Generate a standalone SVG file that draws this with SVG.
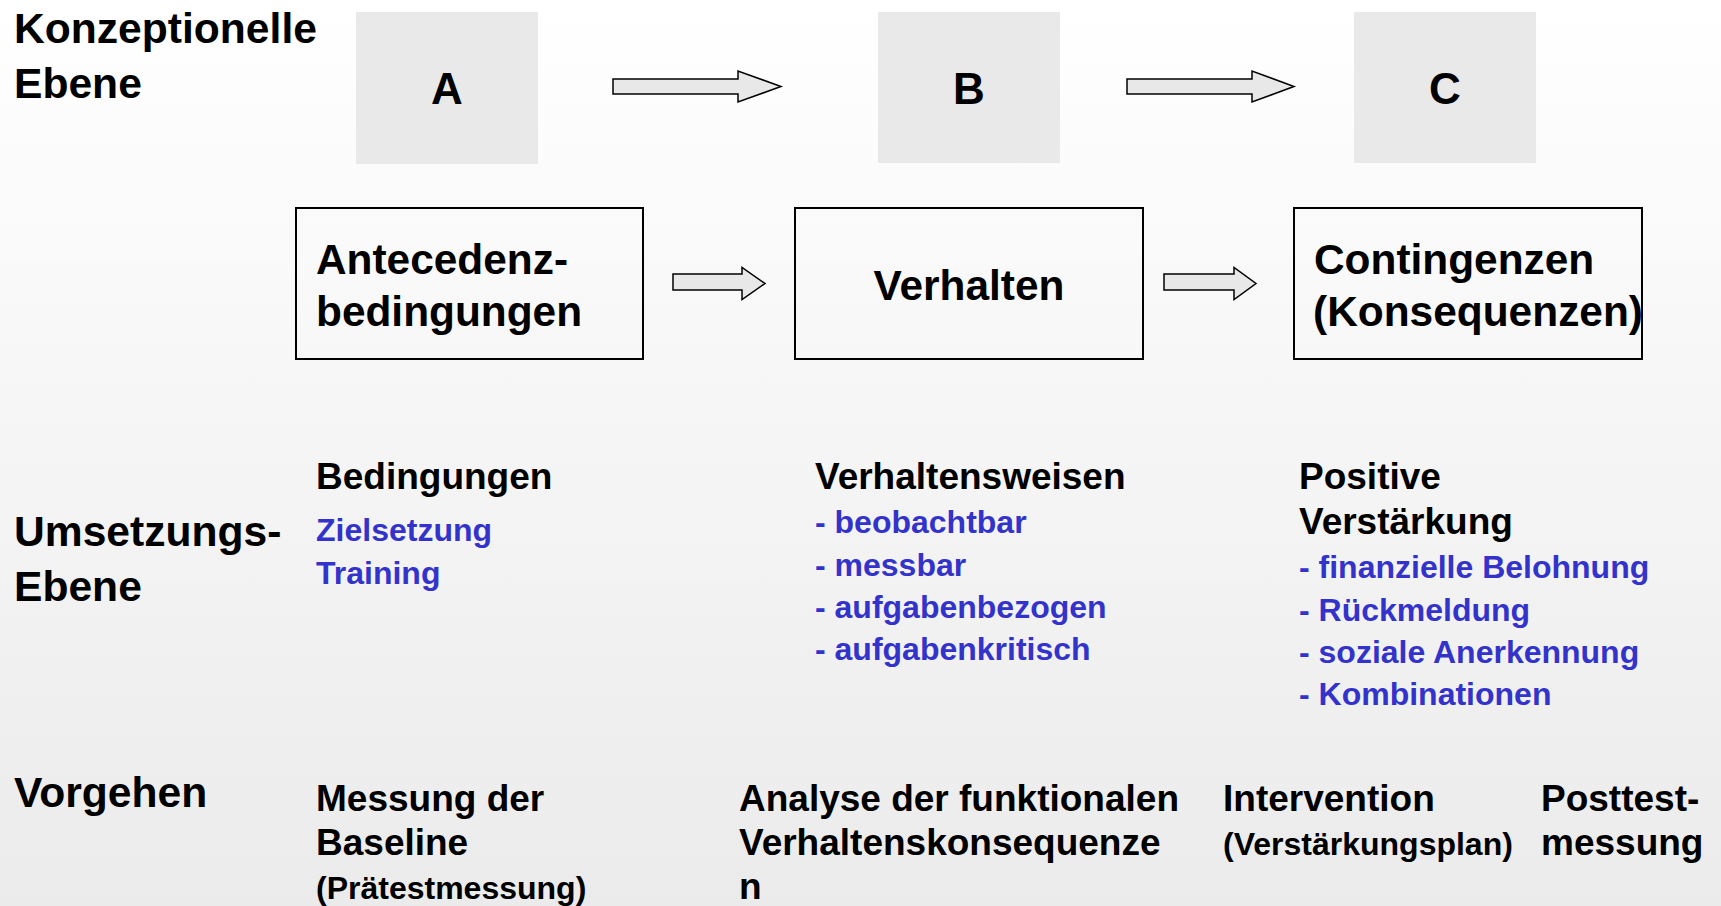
<svg xmlns="http://www.w3.org/2000/svg" width="1721" height="906" viewBox="0 0 1721 906">
  <defs>
    <linearGradient id="bg" x1="0" y1="0" x2="0" y2="1">
      <stop offset="0" stop-color="#FFFFFF"/>
      <stop offset="1" stop-color="#EBEBEB"/>
    </linearGradient>
    <style>
      text { font-family: "Liberation Sans", Arial, sans-serif; font-weight: bold; fill: #000; }
      .lbl { font-size: 42.6px; }
      .big { font-size: 44px; }
      .box { font-size: 42.4px; }
      .hd { font-size: 37px; }
      .sm { font-size: 32px; }
      .blue { font-size: 32px; fill: #3333CC; }
      .gray { fill: #E9E9E9; stroke: none; }
      .frame { fill: none; stroke: #000; stroke-width: 2; }
      .arrow { fill: #E8E8E8; stroke: #000; stroke-width: 1.5; stroke-linejoin: miter; }
    </style>
  </defs>
  <rect x="0" y="0" width="1721" height="906" fill="url(#bg)"/>

  <g id="label-konzeptionelle">
    <text class="lbl" x="14" y="43">Konzeptionelle</text>
    <text class="lbl" x="14" y="98">Ebene</text>
  </g>
  <g id="label-umsetzung">
    <text class="lbl" x="14" y="546">Umsetzungs-</text>
    <text class="lbl" x="14" y="601">Ebene</text>
  </g>
  <g id="label-vorgehen">
    <text class="lbl" x="14" y="807">Vorgehen</text>
  </g>

  <g id="node-A">
    <rect class="gray" x="356" y="12" width="182" height="152"/>
    <text class="big" x="447" y="104" text-anchor="middle">A</text>
  </g>
  <g id="node-B">
    <rect class="gray" x="878" y="12" width="182" height="151"/>
    <text class="big" x="969" y="104" text-anchor="middle">B</text>
  </g>
  <g id="node-C">
    <rect class="gray" x="1354" y="12" width="182" height="151"/>
    <text class="big" x="1445" y="104" text-anchor="middle">C</text>
  </g>

  <g id="node-antecedenz">
    <rect class="frame" x="296" y="208" width="347" height="151"/>
    <text class="box" x="316" y="274">Antecedenz-</text>
    <text class="box" x="316" y="326">bedingungen</text>
  </g>
  <g id="node-verhalten">
    <rect class="frame" x="795" y="208" width="348" height="151"/>
    <text class="box" x="969" y="300" text-anchor="middle">Verhalten</text>
  </g>
  <g id="node-contingenzen">
    <rect class="frame" x="1294" y="208" width="348" height="151"/>
    <text class="box" x="1314" y="274">Contingenzen</text>
    <text class="box" x="1313" y="326" textLength="330" lengthAdjust="spacingAndGlyphs">(Konsequenzen)</text>
  </g>

  <g id="connectors">
    <polygon class="arrow" points="613,79 738,79 738,71 781,86.5 738,102 738,94 613,94"/>
    <polygon class="arrow" points="1127,79 1252,79 1252,71 1294,86.5 1252,102 1252,94 1127,94"/>
    <polygon class="arrow" points="673,274 742,274 742,267.5 765,283.5 742,299.5 742,290 673,290"/>
    <polygon class="arrow" points="1164,274 1234,274 1234,267.5 1256,283.5 1234,299.5 1234,290 1164,290"/>
  </g>

  <g id="col-bedingungen">
    <text class="hd" x="316" y="489">Bedingungen</text>
    <text class="blue" x="316" y="541">Zielsetzung</text>
    <text class="blue" x="316" y="584">Training</text>
  </g>
  <g id="col-verhaltensweisen">
    <text class="hd" x="815" y="489">Verhaltensweisen</text>
    <text class="blue" x="815" y="533">- beobachtbar</text>
    <text class="blue" x="815" y="576">- messbar</text>
    <text class="blue" x="815" y="618">- aufgabenbezogen</text>
    <text class="blue" x="815" y="660">- aufgabenkritisch</text>
  </g>
  <g id="col-verstaerkung">
    <text class="hd" x="1299" y="489">Positive</text>
    <text class="hd" x="1299" y="534">Verstärkung</text>
    <text class="blue" x="1299" y="578">- finanzielle Belohnung</text>
    <text class="blue" x="1299" y="621">- Rückmeldung</text>
    <text class="blue" x="1299" y="663">- soziale Anerkennung</text>
    <text class="blue" x="1299" y="705">- Kombinationen</text>
  </g>

  <g id="step-baseline">
    <text class="hd" x="316" y="811">Messung der</text>
    <text class="hd" x="316" y="855">Baseline</text>
    <text class="sm" x="316" y="899">(Prätestmessung)</text>
  </g>
  <g id="step-analyse">
    <text class="hd" x="739" y="811">Analyse der funktionalen</text>
    <text class="hd" x="739" y="855">Verhaltenskonsequenze</text>
    <text class="hd" x="739" y="899">n</text>
  </g>
  <g id="step-intervention">
    <text class="hd" x="1223" y="811">Intervention</text>
    <text class="sm" x="1223" y="855">(Verstärkungsplan)</text>
  </g>
  <g id="step-posttest">
    <text class="hd" x="1541" y="811">Posttest-</text>
    <text class="hd" x="1541" y="855">messung</text>
  </g>
</svg>
